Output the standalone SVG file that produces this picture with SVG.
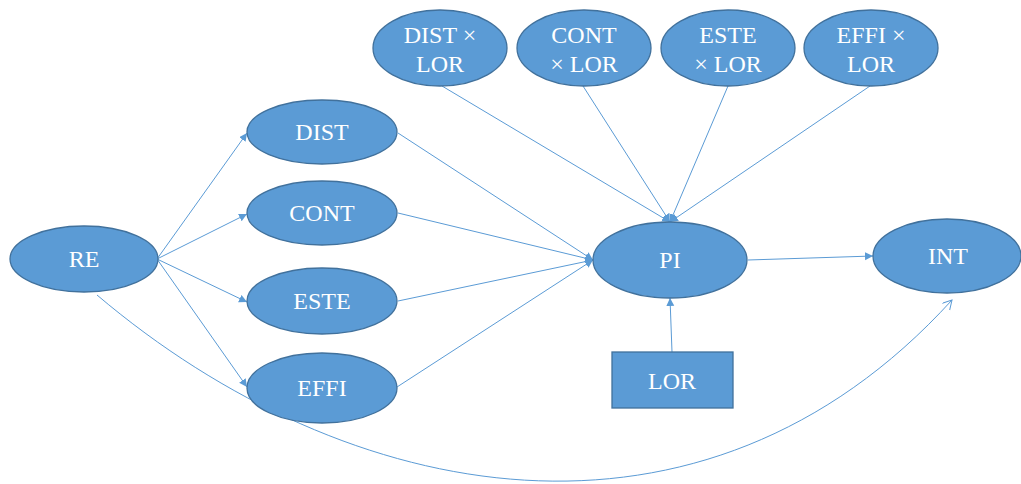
<svg xmlns="http://www.w3.org/2000/svg" width="1021" height="484" viewBox="0 0 1021 484">
<style>
.n{fill:#5B9BD5;stroke:#41719C;stroke-width:1.3}
.t{font-family:"Liberation Serif","Times New Roman",serif;font-size:24px;fill:#FFFFFF;text-anchor:middle}
.e{fill:none;stroke:#5B9BD5;stroke-width:1}
</style>
<defs>
<marker id="a" markerUnits="userSpaceOnUse" markerWidth="10" markerHeight="10" refX="8" refY="4" orient="auto">
<path d="M0,0 L8,4 L0,8 z" fill="#5B9BD5"/>
</marker>
<marker id="o" markerUnits="userSpaceOnUse" markerWidth="12" markerHeight="12" refX="9" refY="5" orient="auto">
<path d="M0,0 L9,5 L0,10" fill="none" stroke="#5B9BD5" stroke-width="1"/>
</marker>
</defs>
<g id="connectors">
<line class="e" x1="157" y1="259" x2="247" y2="133" marker-end="url(#a)"/>
<line class="e" x1="157" y1="259" x2="247" y2="214" marker-end="url(#a)"/>
<line class="e" x1="157" y1="259" x2="247" y2="302" marker-end="url(#a)"/>
<line class="e" x1="157" y1="259" x2="247" y2="387" marker-end="url(#a)"/>
<line class="e" x1="398" y1="133" x2="593" y2="260" marker-end="url(#a)"/>
<line class="e" x1="398" y1="213" x2="593" y2="260" marker-end="url(#a)"/>
<line class="e" x1="398" y1="301" x2="593" y2="260" marker-end="url(#a)"/>
<line class="e" x1="397" y1="387" x2="593" y2="260" marker-end="url(#a)"/>
<line class="e" x1="442" y1="86" x2="670" y2="222" marker-end="url(#a)"/>
<line class="e" x1="583" y1="86" x2="670" y2="222" marker-end="url(#a)"/>
<line class="e" x1="728" y1="86" x2="670" y2="222" marker-end="url(#a)"/>
<line class="e" x1="870" y1="86" x2="670" y2="222" marker-end="url(#a)"/>
<line class="e" x1="672" y1="352" x2="670" y2="298" marker-end="url(#a)"/>
<line class="e" x1="748" y1="260" x2="873" y2="256" marker-end="url(#a)"/>
<path class="e" d="M97,295 C347,507 702,575 952,300" marker-end="url(#o)"/>
</g>
<g id="RE"><ellipse class="n" cx="84" cy="259" rx="74" ry="33"/><text class="t" x="84" y="267">RE</text></g>
<g id="DIST"><ellipse class="n" cx="322" cy="132" rx="75" ry="32"/><text class="t" x="322" y="140">DIST</text></g>
<g id="CONT"><ellipse class="n" cx="322" cy="213" rx="75" ry="32"/><text class="t" x="322" y="221">CONT</text></g>
<g id="ESTE"><ellipse class="n" cx="322" cy="301" rx="75" ry="33"/><text class="t" x="322" y="309">ESTE</text></g>
<g id="EFFI"><ellipse class="n" cx="322" cy="388" rx="75" ry="35"/><text class="t" x="322" y="396">EFFI</text></g>
<g id="PI"><ellipse class="n" cx="670" cy="260" rx="77" ry="38"/><text class="t" x="670" y="268">PI</text></g>
<g id="INT"><ellipse class="n" cx="947" cy="256" rx="74" ry="37"/><text class="t" x="948" y="264">INT</text></g>
<g id="LOR"><rect class="n" x="612" y="352" width="121" height="56"/><text class="t" x="672" y="389">LOR</text></g>
<g id="DISTxLOR"><ellipse class="n" cx="440" cy="48" rx="67" ry="38"/><text class="t" x="440" y="43">DIST ×</text><text class="t" x="440" y="72">LOR</text></g>
<g id="CONTxLOR"><ellipse class="n" cx="584" cy="48" rx="67" ry="38"/><text class="t" x="584" y="43">CONT</text><text class="t" x="584" y="72">× LOR</text></g>
<g id="ESTExLOR"><ellipse class="n" cx="728" cy="48" rx="67" ry="38"/><text class="t" x="728" y="43">ESTE</text><text class="t" x="728" y="72">× LOR</text></g>
<g id="EFFIxLOR"><ellipse class="n" cx="871" cy="48" rx="67" ry="38"/><text class="t" x="871" y="43">EFFI ×</text><text class="t" x="871" y="72">LOR</text></g>
</svg>
